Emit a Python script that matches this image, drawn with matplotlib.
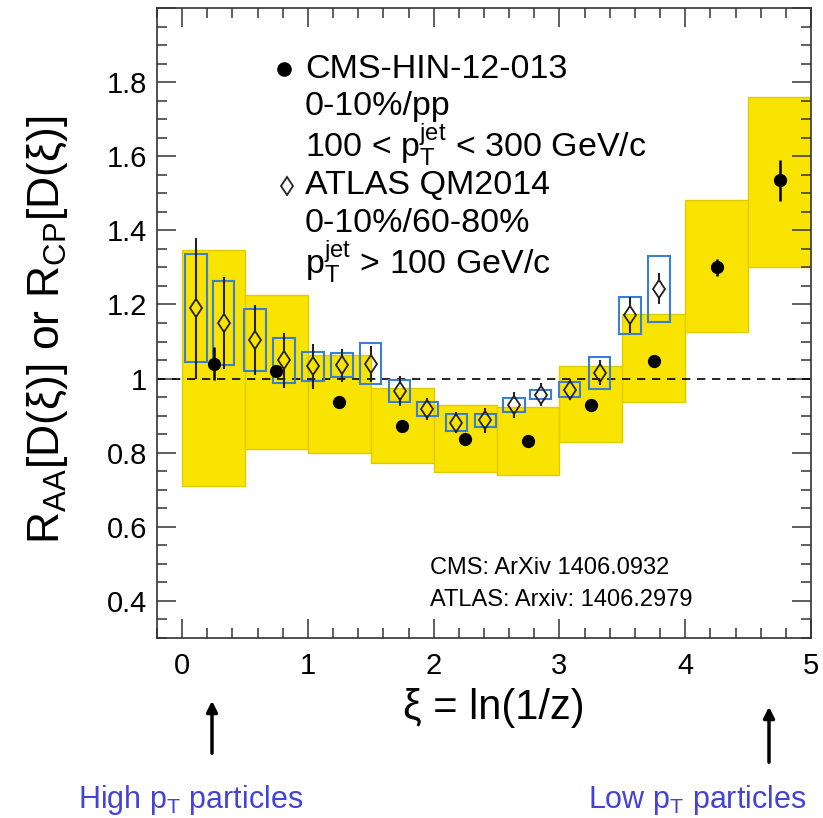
import numpy as np
import matplotlib
matplotlib.use("Agg")
import matplotlib.pyplot as plt
from matplotlib.ticker import MultipleLocator, FuncFormatter

plt.rcParams['font.family'] = ['Liberation Sans', 'DejaVu Sans']
plt.rcParams['mathtext.fontset'] = 'custom'
plt.rcParams['mathtext.rm'] = 'Liberation Sans'
plt.rcParams['mathtext.it'] = 'Liberation Sans:italic'
plt.rcParams['mathtext.default'] = 'regular'

# CMS: 0-10%/pp, bins of xi
cms_edges = [0.0, 0.5, 1.0, 1.5, 2.0, 2.5, 3.0, 3.5, 4.0, 4.5, 5.0]
cms_y = [1.040, 1.020, 0.937, 0.873, 0.838, 0.831, 0.928, 1.047, 1.300, 1.535]
cms_stat = [0.045, 0.015, 0.010, 0.010, 0.010, 0.010, 0.010, 0.015, 0.022, 0.055]
cms_sys_lo = [0.711, 0.810, 0.799, 0.771, 0.747, 0.741, 0.829, 0.936, 1.125, 1.302]
cms_sys_hi = [1.346, 1.226, 1.065, 0.975, 0.929, 0.924, 1.034, 1.174, 1.482, 1.760]

# ATLAS QM2014: 0-10%/60-80%
atlas_x = [0.11, 0.33, 0.58, 0.81, 1.04, 1.27, 1.50, 1.73, 1.95, 2.18,
           2.41, 2.64, 2.85, 3.08, 3.32, 3.56, 3.79]
atlas_y = [1.190, 1.150, 1.104, 1.049, 1.033, 1.036, 1.040, 0.967, 0.918, 0.881,
           0.887, 0.929, 0.957, 0.970, 1.016, 1.171, 1.242]
atlas_stat = [0.190, 0.125, 0.095, 0.074, 0.060, 0.045, 0.048, 0.040, 0.030, 0.028,
              0.033, 0.034, 0.030, 0.028, 0.033, 0.048, 0.042]
atlas_sys = [0.145, 0.112, 0.083, 0.060, 0.040, 0.033, 0.055, 0.030, 0.019, 0.023,
             0.018, 0.019, 0.013, 0.020, 0.043, 0.050, 0.090]

yellow = '#f9e300'
blue = '#3b7fd4'
label_blue = '#4343d8'

fig = plt.figure(figsize=(8.23, 8.18), dpi=100)
ax = fig.add_axes([157/823, 180/818, 654/823, 630/818])
ax.set_xlim(-0.2, 5.0)
ax.set_ylim(0.3, 2.0)

edges = np.array(cms_edges)
cms_x = 0.5*(edges[:-1] + edges[1:])
lo = np.array(cms_sys_lo)
hi = np.array(cms_sys_hi)
ax.bar(edges[:-1], hi - lo, bottom=lo, width=np.diff(edges), align='edge',
       color=yellow, edgecolor='#e2cc00', linewidth=1.0, zorder=1)

ax.axhline(1.0, color='black', ls=(0, (5, 4)), lw=1.2, zorder=2)

ay = np.array(atlas_y)
asys = np.array(atlas_sys)
ax.bar(atlas_x, 2*asys, bottom=ay - asys, width=0.17, fill=False,
       edgecolor=blue, linewidth=1.5, zorder=3)

# stat bars leave a gap around the open diamond
fig.canvas.draw()
h_px = ax.get_window_extent().height
gap = 7.0/h_px*(2.0 - 0.3)
astat = np.array(atlas_stat)
ax.vlines(atlas_x, ay + gap, ay + astat, color='#222222', lw=1.5, zorder=4)
ax.vlines(atlas_x, ay - astat, ay - gap, color='#222222', lw=1.5, zorder=4)
ax.plot(atlas_x, atlas_y, ls='none', marker='d', ms=9.5, mfc='none',
        mec='#222222', mew=1.3, zorder=5)

ax.errorbar(cms_x, cms_y, yerr=cms_stat, fmt='o', color='black', ms=8.5,
            elinewidth=1.8, capsize=0, zorder=6)

# ticks, ROOT style
ax.xaxis.set_major_locator(MultipleLocator(1))
ax.xaxis.set_minor_locator(MultipleLocator(0.2))
ax.yaxis.set_major_locator(MultipleLocator(0.2))
ax.yaxis.set_minor_locator(MultipleLocator(0.05))
ax.yaxis.set_major_formatter(
    FuncFormatter(lambda v, p: '' if v > 1.95 else '%g' % round(v, 2)))
ax.tick_params(which='both', direction='in', top=True, right=True,
               width=1.1, color='#333333', labelsize=21)
ax.tick_params(which='major', length=14)
ax.tick_params(which='minor', length=7)
ax.tick_params(axis='x', pad=10)
ax.tick_params(axis='y', pad=7)
for s in ax.spines.values():
    s.set_linewidth(1.2)
    s.set_color('#333333')

# legend block
def fx(px):
    return (px - 157)/654
def fy(py):
    return (638 - py)/630

ax.plot(fx(284), fy(69), 'o', color='black', ms=9.5, transform=ax.transAxes, clip_on=False)
ax.plot(fx(287), fy(186), 'd', ms=9.5, mfc='none', mec='#222222', mew=1.3,
        transform=ax.transAxes, clip_on=False)
leg_lines = [
    ('CMS-HIN-12-013', 70),
    ('0-10%/pp', 106),
    ('100 < $p_{T}^{jet}$ < 300 GeV/c', 145),
    ('ATLAS QM2014', 186),
    ('0-10%/60-80%', 224),
    ('$p_{T}^{jet}$ > 100 GeV/c', 262),
]
for txt, py in leg_lines:
    ax.text(fx(305), fy(py), txt, transform=ax.transAxes, fontsize=24.5,
            va='center', ha='left')

ax.text(fx(430), fy(568), 'CMS: ArXiv 1406.0932', transform=ax.transAxes,
        fontsize=17, va='center', ha='left')
ax.text(fx(430), fy(600), 'ATLAS: Arxiv: 1406.2979', transform=ax.transAxes,
        fontsize=17, va='center', ha='left')

# axis titles
fig.text(494/823, 1 - 708/818, 'ξ = ln(1/z)', fontsize=30, ha='center', va='center')
fig.text(48/823, 1 - 330/818, 'R$_{AA}$[D(ξ)] or R$_{CP}$[D(ξ)]', fontsize=32,
         rotation=90, ha='center', va='center')

# arrows towards the ends of the xi range
for x0, ytip, ytail in [(212, 698, 756), (769, 704, 765)]:
    fig.add_artist(plt.Annotation('', xy=(x0/823, 1 - ytip/818),
                                  xytext=(x0/823, 1 - ytail/818),
                                  xycoords='figure fraction',
                                  arrowprops=dict(arrowstyle='-|>', color='black',
                                                  lw=2.5, mutation_scale=16)))
fig.text(191/823, 1 - 800/818, 'High p$_T$ particles', fontsize=22,
         color=label_blue, ha='center', va='center')
fig.text(697/823, 1 - 800/818, 'Low p$_T$ particles', fontsize=22,
         color=label_blue, ha='center', va='center')

fig.savefig('out.png', dpi=100)
